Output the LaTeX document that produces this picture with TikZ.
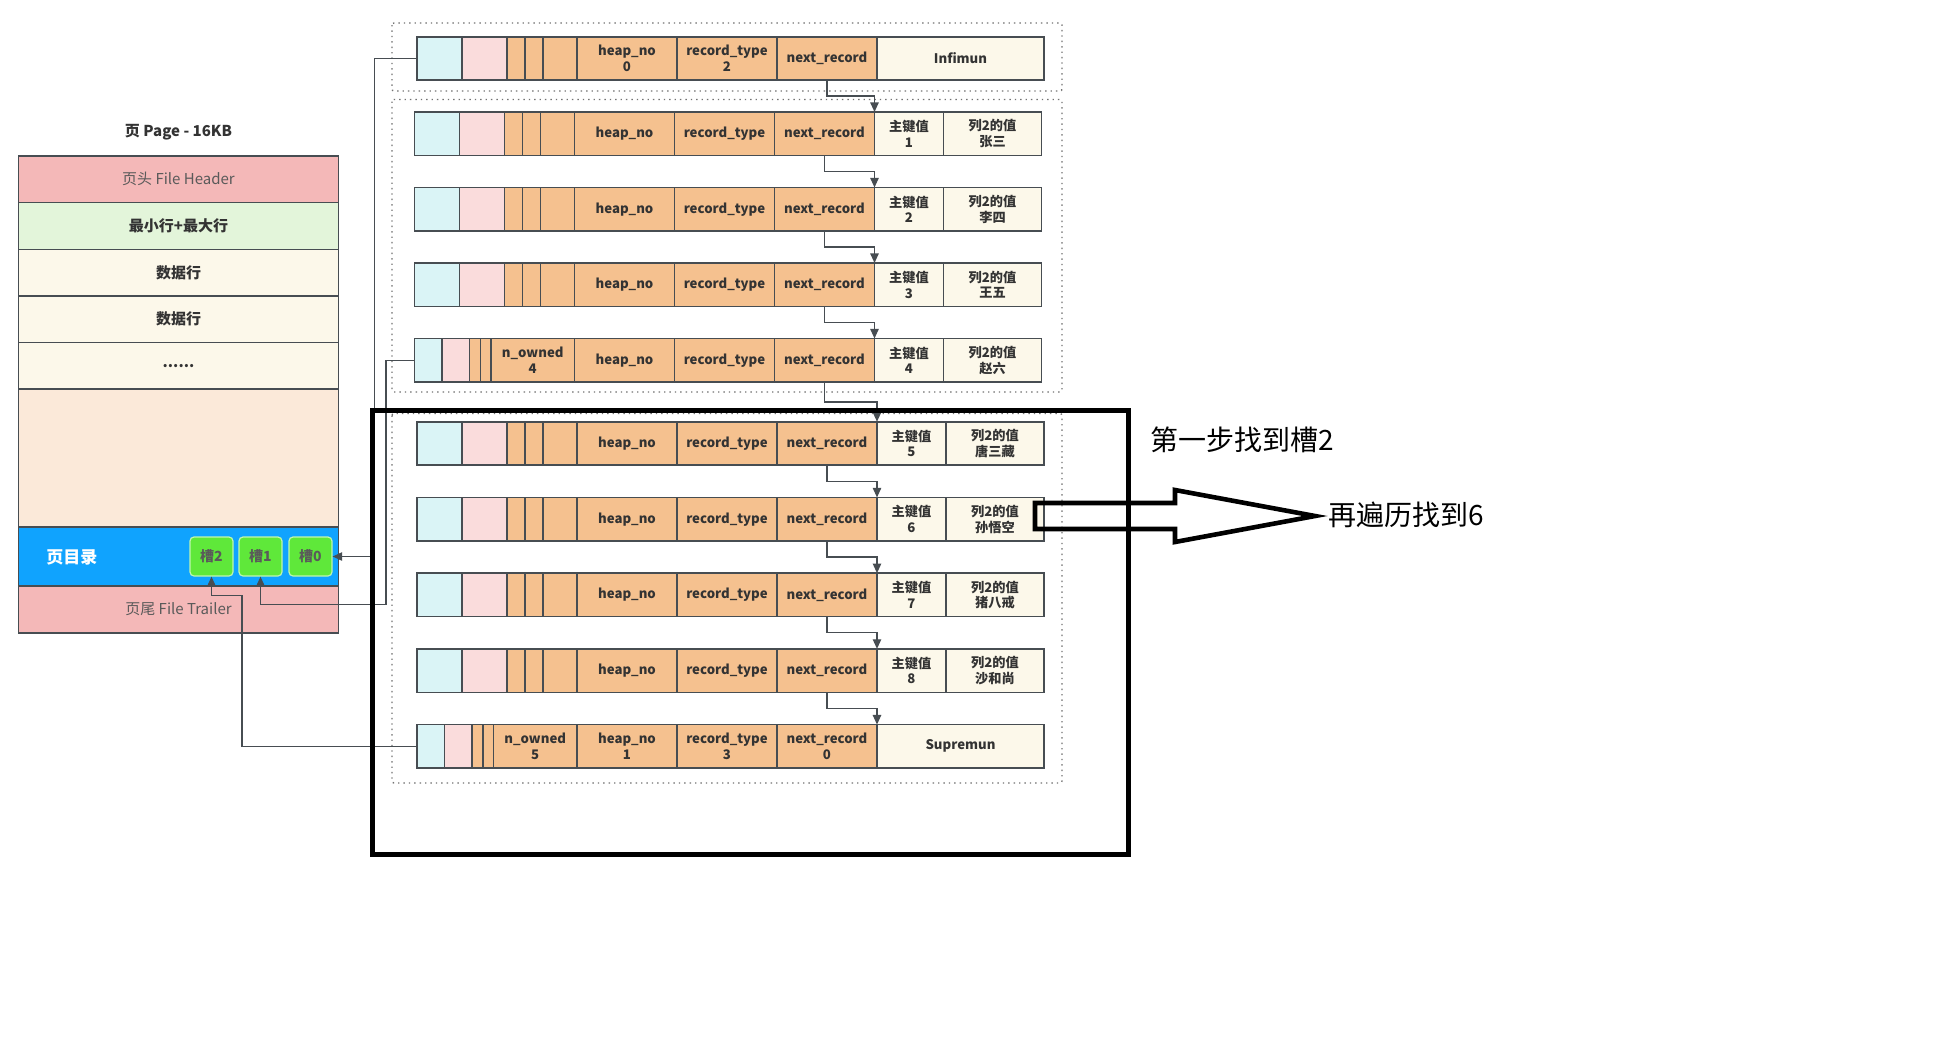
\documentclass[tikz,border=0pt]{standalone}
\usepackage{fontspec}
\setmainfont{Noto Sans CJK SC}
\usetikzlibrary{positioning,calc,arrows.meta}

\definecolor{linegray}{HTML}{474D52}
\definecolor{textdark}{HTML}{333333}
\definecolor{textgray}{HTML}{5A5A5A}
\definecolor{cellcyan}{HTML}{DAF4F6}
\definecolor{cellpink}{HTML}{FADCDC}
\definecolor{cellorange}{HTML}{F5C18F}
\definecolor{cellcream}{HTML}{FCF8EA}
\definecolor{hdrpink}{HTML}{F4B8B8}
\definecolor{rowgreen}{HTML}{E3F5DA}
\definecolor{freepeach}{HTML}{FBE9D9}
\definecolor{dirblue}{HTML}{10A3FE}
\definecolor{slotgreen}{HTML}{5FE83A}

\newcommand{\recfont}{\fontsize{6.6}{7.8}\selectfont\bfseries}
\newcommand{\panelfont}{\fontsize{7.5}{9}\selectfont}
\newcommand{\notefont}{\fontsize{14}{16}\selectfont}

% 记录头部(普通记录)
\newcommand{\recordhead}[3]{%
  \node[cell, fill=cellcyan, minimum width=22.5pt, anchor=west] (#1-c) at (#2,#3) {};
  \node[cell, fill=cellpink, minimum width=22.5pt, right=0pt of #1-c] (#1-p) {};
  \node[cell, minimum width=9pt, right=0pt of #1-p] (#1-a) {};
  \node[cell, minimum width=9pt, right=0pt of #1-a] (#1-b) {};
  \node[cell, minimum width=17pt, right=0pt of #1-b] (#1-o) {};
}
% 记录头部(带 n_owned)
\newcommand{\ownedhead}[4]{%
  \node[cell, fill=cellcyan, minimum width=13.75pt, anchor=west] (#1-c) at (#2,#3) {};
  \node[cell, fill=cellpink, minimum width=13.75pt, right=0pt of #1-c] (#1-p) {};
  \node[cell, minimum width=5.5pt, right=0pt of #1-p] (#1-a) {};
  \node[cell, minimum width=5.25pt, right=0pt of #1-a] (#1-b) {};
  \node[cell, minimum width=41.75pt, right=0pt of #1-b] (#1-o) {n\_owned\\#4};
}
\newcommand{\recordbody}[4]{%
  \node[cell, minimum width=50pt, right=0pt of #1-o] (#1-h) {#2};
  \node[cell, minimum width=50pt, right=0pt of #1-h] (#1-t) {#3};
  \node[cell, minimum width=50pt, right=0pt of #1-t] (#1-n) {#4};
}
\newcommand{\recordtail}[3]{%
  \node[cell, fill=cellcream, minimum width=34.5pt, right=0pt of #1-n] (#1-k) {主键值\\#2};
  \node[cell, fill=cellcream, minimum width=49pt, right=0pt of #1-k] (#1-v) {列2的值\\#3};
}
\newcommand{\recordend}[2]{%
  \node[cell, fill=cellcream, minimum width=83.5pt, right=0pt of #1-n] (#1-k) {#2};
}

\begin{document}
\begin{tikzpicture}[x=0.5pt,y=-0.5pt,>={Triangle[length=4.8pt,width=4.2pt]},
    cell/.style={draw=linegray, line width=0.8pt, fill=cellorange, minimum height=21.75pt,
      inner sep=0pt, outer sep=0pt, align=center, font=\recfont, text=textdark},
    panel/.style={draw=linegray, line width=0.8pt, minimum width=160pt,
      inner sep=0pt, outer sep=0pt, font=\panelfont, text=textdark},
    slot/.style={draw=white!60!slotgreen, line width=0.6pt, fill=slotgreen, rounded corners=2pt,
      minimum width=21.5pt, minimum height=19.5pt, inner sep=0pt, font=\fontsize{7}{8}\selectfont\bfseries, text=textgray},
    link/.style={draw=linegray, line width=0.7pt, ->},
    group/.style={draw=gray!90!black, dotted, line width=0.7pt, rounded corners=1pt}]
    \useasboundingbox (0,0) rectangle (1956,1045);
    \fill[white] (0,0) rectangle (1956,1045);

    % 左边的页结构
    \node[font=\panelfont\bfseries, text=textdark] (ptitle) at (178.5,132) {页 Page - 16KB};
    \node[panel, fill=hdrpink, minimum height=23.25pt, text=textgray] (fhdr) at (178.5,179.25) {页头 File Header};
    \node[panel, fill=rowgreen, minimum height=23.5pt, font=\panelfont\bfseries, below=0pt of fhdr] (minmax) {最小行+最大行};
    \node[panel, fill=cellcream, minimum height=23.25pt, font=\panelfont\bfseries, below=0pt of minmax] (data1) {数据行};
    \node[panel, fill=cellcream, minimum height=23.25pt, font=\panelfont\bfseries, below=0pt of data1] (data2) {数据行};
    \node[panel, fill=cellcream, minimum height=23.25pt, font=\panelfont\bfseries, below=0pt of data2] (more) {......};
    \node[panel, fill=freepeach, minimum height=69pt, below=0pt of more] (free) {};
    \node[panel, fill=dirblue, minimum height=29.5pt, below=0pt of free] (pdir) {};
    \node[panel, fill=hdrpink, minimum height=23.5pt, text=textgray, below=0pt of pdir] (ftrl) {页尾 File Trailer};
    \node[anchor=west, inner sep=0pt, text=white, font=\fontsize{8.5}{10}\selectfont\bfseries] (dirname) at (46,557) {页目录};
    \node[slot] (s2) at (211.5,556.5) {槽2};
    \node[slot] (s1) at (260.5,556.5) {槽1};
    \node[slot] (s0) at (310.5,556.5) {槽0};

    % 分组虚线框
    \draw[group] (392,23) rectangle (1062,91);
    \draw[group] (392,99.5) rectangle (1062,392);
    \draw[group] (392,413.5) rectangle (1062,783);

    % 记录
    \recordhead{inf}{417}{58.5}
    \recordbody{inf}{heap\_no\\0}{record\_type\\2}{next\_record}
    \recordend{inf}{Infimun}
    \foreach \n/\x/\y/\k/\v in {r1/414.5/133.75/1/张三, r2/414.5/209.25/2/李四, r3/414.5/284.75/3/王五,
        r5/417/443.5/5/唐三藏, r6/417/519.2/6/孙悟空, r7/417/594.9/7/猪八戒, r8/417/670.6/8/沙和尚}{
      \recordhead{\n}{\x}{\y}
      \recordbody{\n}{heap\_no}{record\_type}{next\_record}
      \recordtail{\n}{\k}{\v}
    }
    \ownedhead{r4}{414.5}{360.25}{4}
    \recordbody{r4}{heap\_no}{record\_type}{next\_record}
    \recordtail{r4}{4}{赵六}
    \ownedhead{sup}{417}{746.3}{5}
    \recordbody{sup}{heap\_no\\1}{record\_type\\3}{next\_record\\0}
    \recordend{sup}{Supremun}

    % next_record 链表
    \foreach \a/\b in {inf/r1, r1/r2, r2/r3, r3/r4, r4/r5, r5/r6, r6/r7, r7/r8, r8/sup}
      \draw[link] (\a-n.south) |- ($(\a-n.south)!.5!(\b-k.north west)$) -| (\b-k.north west);

    % 槽指向记录
    \draw[link] (inf-c.west) -- ++(-42.5,0) |- (s0.east);
    \draw[link] (r4-c.west) -- ++(-28.5,0) |- ($(s1.south)+(0,28)$) -- (s1.south);
    \draw[link] (sup-c.west) -| ($(s2.south)+(30.5,19)$) -| (s2.south);

    % 查找过程
    \draw[line width=2.5pt] (372.5,410) rectangle (1128,854);
    \node[anchor=west, inner sep=0pt, font=\notefont] (step1) at (1150,440) {第一步找到槽2};
    \node[anchor=west, inner sep=0pt, font=\notefont] (step2) at (1328,515) {再遍历找到6};
    \draw[line width=2.3pt] (1035,503) -- (1175,503) -- (1175,490) -- (1315,516)
      -- (1175,542) -- (1175,529) -- (1035,529) -- cycle;
\end{tikzpicture}
\end{document}
